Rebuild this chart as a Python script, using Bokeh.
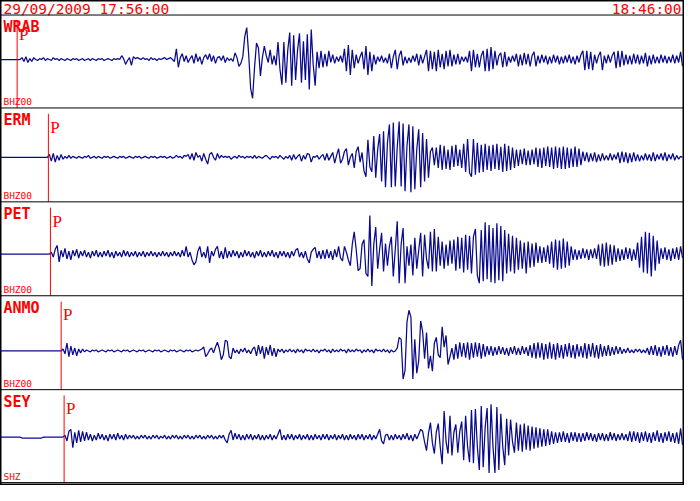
from bokeh.plotting import figure
from bokeh.models import Range1d, Span
from bokeh.core.properties import value
from bokeh.embed import file_html
from bokeh.resources import INLINE

# ---------------- data ----------------
START_LABEL = "29/09/2009 17:56:00"
END_LABEL = "18:46:00"
WINDOW_SEC = 3000            # 17:56:00 -> 18:46:00
N_SAMPLES = 350
SAMPLE_SEC = WINDOW_SEC / N_SAMPLES

stations = ["WRAB", "ERM", "PET", "ANMO", "SEY"]
channels = ["BHZ00", "BHZ00", "BHZ00", "BHZ00", "SHZ"]
p_arrival_sec = [73, 210, 219, 266, 279]

wrab = [0, 0, 0, 0, 0, 0, 0, 0, 0, 0, 0,
    2, -2, 3, -3, 1, -2, 2, 0, -1, 1, 0, 2, -1, 1, 0, -1, 2, 0, 1, -1,
    1, 0, -1, 1, 0, -1, 1, 0, 1, -1, 0, 1, -1, 0, 1, -1, 1, 0, -1, 1,
    0, 1, -1, 0, 1, 0, -1, 1, 0, 1, 0, 4, 1, -5, -1, 2, -6, 3, 1, 2,
    1, 0, 2, 0, 1, -1, 2, 0, 1, -1, 1, 0, 1, 2, 0, 1, 2, 0, -2, 11,
    -8, 2, 6, -2, 4, -3, 1, 4, -4, 6, -2, 3, -5, 2, 5, 0, 6, -2, 4, -4,
    2, 3, -1, 4, -3, 2, -1, 1, -2, 7, 2, -7, -4, 3, 24, 33, 5, -30, -40, -8,
    17, 12, -17, 2, 14, 4, -3, 10, -5, 4, -6, 18, -10, -26, 18, -24, 10, 28, -27, 25,
    -21, 10, 27, -24, 19, -21, 26, -31, 31, -5, -27, 8, -9, 9, -8, 6, -7, 9, -3, 5,
    -4, 3, -2, 4, -3, 11, -12, 15, -16, 10, -9, 5, -4, 3, 8, -10, 14, -16, 8, -12,
    5, -5, 3, -2, 4, -3, 2, -4, 6, -9, 3, 10, -10, 4, 9, -6, 3, -4, 2, -3,
    4, -2, 6, -6, 5, -4, 3, 10, -12, 9, -10, 8, -12, 10, -8, 6, -10, 9, -7, 10,
    -7, 5, -5, 6, -5, 3, -2, 3, -3, 9, -12, 10, -8, 6, -8, 4, 9, -12, 11, -12,
    13, -10, 9, -6, 4, 7, -8, 8, -7, 3, -3, 4, -2, 6, -7, 5, -6, 7, -5, 6,
    -7, 4, 8, -7, 4, -4, 5, -3, 4, -5, 3, -4, 5, -3, 4, -5, 3, -4, 4, -3,
    5, -4, 3, -5, 4, -3, 5, 9, -11, 9, -10, 8, -11, 5, -4, 4, 8, -11, 4, -4,
    5, -3, 4, 8, -9, 9, -8, 9, -6, 5, -5, 4, -5, 6, -4, 5, -5, 4, -4, 7,
    -7, 4, -5, 5, -4, 3, -4, 5, -3, 4, -4, 3, -3, 5, -4, 4, -3, 8, -7]

erm = [0, 0, 0, 0, 0, 0, 0, 0, 0, 0, 0, 0, 0, 0, 0, 0, 0, 0, 0, 0, 0, 0, 0, 0, 0,
    3, -4, 4, -5, 2, -3, 3, -2, 1, -1, 2, -1, 1, 0, -1, 1, 0, -1, 1, 0,
    2, -1, 0, 1, -1, 1, 0, -1, 1, 0, 1, -1, 0, 1, 0, -1, 1, 0, 1, -1,
    0, 1, 0, -1, 1, 0, 1, -1, 0, 1, 0, -1, 1, 0, 1, -1, 0, 1, 0, 1,
    -1, 0, 1, -1, 0, 2, 0, 1, -1, 2, 1, 3, -2, 4, -3, 5, 0, 2, -4, 4,
    -2, -7, 3, 5, 0, -3, 4, -1, 2, 0, 1, 0, 1, -2, 0, 1, -1, 2, 0, 1,
    -1, 1, 0, 1, -1, 2, -1, 1, 0, -1, 1, 2, 0, -2, 1, 0, 1, -1, 2, 0,
    -2, 1, -1, 2, -3, 3, -2, 1, 3, -4, 2, -2, 4, 3, -5, 1, 0, 2, -2, 1,
    3, -3, 4, -3, 1, 5, -6, 2, 9, -6, -2, 6, 9, -8, 0, 4, -11, 6, 11, -5,
    5, -14, -20, 18, -10, -15, 22, -21, 8, 24, -25, 27, -31, 15, 34, -31, 36, -30, 10, 37,
    -30, 35, -35, 12, 34, -36, 32, -33, 8, 29, -31, 25, -25, 19, -21, 6, 10, -8, 10, -11,
    13, -13, 12, -12, 8, -13, 12, -10, 13, -9, 8, -11, 14, -15, 19, -16, -20, 19, -18, 15,
    -16, 13, -15, 14, -13, 12, -14, 13, -12, 14, -13, 11, -15, 14, -14, 12, -13, 10, -11, 8,
    -9, 8, -7, 9, -8, 7, -8, 8, -7, 10, -10, 9, -11, 10, -9, 11, -10, 10, -12, 11,
    -11, 10, -12, 11, -12, 10, -11, 9, -10, 11, -10, 9, -8, 6, -4, 5, -5, 4, -4, 5,
    -5, 3, -4, 4, -3, 2, -3, 4, -3, 3, -2, 5, -6, 6, -5, 5, -6, 4, -5, 5,
    -4, 3, -4, 2, -3, 4, -3, 3, -4, 5, -4, 3, -2, 4, -3, 5, -4, 3, -2, 4,
    -3, 2, -2, 1, 0]

pet = [0, 0, 0, 0, 0, 0, 0, 0, 0, 0, 0, 0, 0, 0, 0, 0, 0, 0, 0, 0, 0, 0, 0, 0, 0, 0,
    2, -3, 5, 9, -8, 4, -3, 6, -5, 3, -6, 4, -2, 5, -4, 3, -2, 4, -3, 2,
    -4, 3, -2, 4, -3, 2, -3, 3, -2, 4, -3, 2, -4, 3, -2, 2, -3, 4, -2, 3,
    -3, 2, -2, 3, -3, 2, -2, 3, -3, 2, -2, 3, -2, 2, -3, 2, -2, 3, -2, 2,
    -3, 2, -2, 3, -2, 2, -3, 4, -2, 8, -3, 2, -6, -11, -8, 3, 8, -3, 2, -4,
    8, -9, 3, -2, 5, 8, -4, 3, -5, 7, -4, 3, -3, 4, -2, 3, -4, 2, -3, 4,
    -2, 3, -3, 2, -4, 3, -2, 4, -3, 2, -3, 3, -2, 4, -3, 2, -4, 3, -2, 3,
    -3, 2, -4, 3, -2, 4, 6, -3, 2, -4, 3, -5, -9, 2, 5, 7, -4, 3, -5, 4,
    -5, 5, -4, 3, -6, 5, -3, 8, -4, -7, 8, 2, -6, -12, 10, 23, 5, -17, -15, 10,
    15, -20, -23, 40, -33, 10, 28, -15, 5, 22, -18, 11, -12, 8, 18, -23, 5, 34, -30, 10,
    27, -30, 8, -12, 10, -22, 17, -15, 4, 22, -23, 20, -5, -15, 23, -18, 26, -18, 18, -12,
    13, -15, 10, -12, 14, -10, 15, -17, 18, -15, 17, -19, 20, -16, 19, -20, 18, 26, -22, -30,
    25, -28, 33, -26, 30, -29, 27, -30, 32, -27, 29, -28, 25, -20, 21, -18, 19, -20, 17, -16,
    14, -15, 12, -20, 13, -14, 11, -13, 12, -9, 8, -9, 7, -8, 9, -10, 13, -14, 15, -16,
    14, -15, 16, -14, 13, -12, 8, -6, 5, -6, 4, -5, 6, -4, 5, -6, 5, -4, 6, -5,
    10, -12, 11, -13, 12, -12, 10, -11, 9, -8, 6, -7, 5, -6, 7, -5, 6, -7, 5, -6,
    12, -14, 18, -19, 23, -20, 22, -23, 19, -17, 14, -10, 6, -5, 7, -6, 5, -7, 6, -5,
    7, -6, 8, -4]

anmo = [0, 0, 0, 0, 0, 0, 0, 0, 0, 0, 0, 0, 0, 0, 0, 0,
    0, 0, 0, 0, 0, 0, 0, 0, 0, 0, 0, 0, 0, 0, 0, 0,
    2, -3, 8, -6, 5, -4, 3, -5, 2, -2, 2, -1, 1, 0, -1, 1, 0, 1, -1, 0,
    1, 0, -1, 1, 0, 1, -1, 0, 1, 0, -1, 1, 0, 1, -1, 0, 1, 0, -1, 1,
    0, 1, -1, 0, 1, 0, -1, 1, 0, 1, -1, 0, 1, 0, -1, 1, 0, 1, -1, 0,
    1, 0, -1, 1, 0, 1, -1, 0, 1, 0, 1, 2, 4, -6, -3, 1, 3, -2, 4, 9,
    2, -9, -4, 11, 10, -6, -8, 3, -2, 1, -3, 2, -1, 3, -2, 1, -3, 2, 4, -5,
    6, -3, 5, -8, 4, -4, 6, -5, 3, -6, 2, -1, 2, -2, 1, -1, 2, -1, 1, -2,
    2, -1, 1, -2, 2, 0, 1, -1, 2, -1, 1, -2, 1, 0, 2, -1, 1, -2, 2, -1,
    1, -1, 2, 0, 1, -2, 2, -1, 1, -1, 2, 0, 1, -2, 1, -1, 2, -1, 1, -2,
    2, 0, 1, -1, 2, -1, 1, -2, 1, -1, 0, 3, 14, 12, -29, -20, 30, 42, 35, -29,
    12, -23, -10, 31, 20, -8, 19, -18, -5, -21, 8, 14, -4, -7, 25, 4, 16, -14, -6, 3,
    -9, 7, -8, 9, -6, 8, -7, 9, -9, 8, -7, 9, -6, 8, -8, 7, -6, 5, -4, 5,
    -5, 4, -4, 5, -3, 4, -4, 3, -5, 4, -3, 5, -4, 3, -4, 5, -3, 4, -5, 6,
    -7, 8, -8, 9, -7, 8, -9, 7, -8, 9, -8, 7, -9, 8, -7, 6, -8, 7, -6, 8,
    -7, 6, -8, 7, -6, 5, -7, 8, -8, 7, -6, 8, -7, 6, -8, 7, -6, 5, -5, 6,
    -5, 4, -4, 5, -3, 4, -3, 2, -2, 3, -2, 1, -2, 2, -1, 2, -2, 1, -2, 3,
    -4, 5, -4, 6, -5, 4, -6, 5, -4, 6, -5, 4, -6, 5, -4, 6, 11, -9]

sey = [0, 0, 0, 0, 0, 0, 0, 0, 0, 0, 0,
    -1, -1, -1, -1, -1, -1, -1, -1, -1, -1, -1,
    0, 0, 0, 0, 0, 0, 0, 0, 0, 0, 0,
    2, -4, 6, 8, -11, 5, -6, 7, -5, 6, -4, 5, -3, 3, -4, 2, -3, 4, -2, 3,
    -3, 2, -4, 3, -2, 3, -3, 4, -2, 2, -3, 3, -2, 2, -1, 2, -2, 1, -2, 2,
    -1, 2, -2, 1, -2, 2, -1, 2, -2, 1, -1, 2, -2, 1, -2, 2, -1, 2, -2, 1,
    -2, 2, -1, 2, -2, 1, -2, 2, -1, 2, -2, 1, -2, 2, -1, 2, -2, 1, -2, 2,
    -1, 2, -3, -6, 3, 7, -3, 4, -2, 3, -3, 2, -3, 3, -2, 3, -3, 2, -2, 3,
    -3, 2, -3, 2, -2, 3, -3, 2, -2, 3, 8, -3, 2, -3, 3, -2, 3, -3, 2, -2,
    3, -3, 2, -2, 3, -3, 2, -3, 3, -2, 2, -3, 3, -2, 3, -3, 2, -2, 3, -3,
    2, -2, 3, -3, 2, -3, 3, -2, 2, -3, 3, -2, 3, -3, 2, -2, 3, -3, 2, -2,
    3, 8, -4, -7, 2, 3, -3, 2, -3, 3, -2, 2, -3, 3, -2, 4, -3, 2, -4, 3,
    -2, 3, 8, 6, -5, -14, 4, 15, -6, -17, 5, 14, -10, -28, 27, -5, -17, 22, -19, 5,
    13, -16, 6, 16, -24, 22, -10, -26, 28, -27, 29, -10, -34, 32, -31, 10, 30, -37, 34, -10,
    -37, 31, -34, 24, -10, -29, 19, -19, 18, -5, -16, 15, -14, 13, -15, 14, -13, 12, -14, 11,
    -12, 10, -11, 9, -10, 8, -9, 8, -8, 6, -7, 5, -6, 5, -5, 6, -5, 4, -6, 5,
    -4, 5, -5, 4, -5, 4, -4, 5, -3, 4, -4, 3, -5, 4, -3, 4, -4, 3, -4, 5,
    -3, 4, -4, 3, -3, 4, -3, 3, -4, 6, -5, 6, -4, 5, -6, 5, -4, 6, -5, 4,
    -6, 5, -4, 7, -5, 4, -6, 5, -4, 6, -5, 4, -6, 5, -7, 9, -8]

traces = [wrab, erm, pet, anmo, sey]

# ---------------- layout (reference pixel frame 700 x 501) ----------------
REF_W, REF_H = 700, 501
W, H = 684, 485
panel_tops = [15, 111, 208, 305, 402]
panel_bottom = 498
baselines = [61, 162, 262, 362, 451]
TRACE_COLOR = "#0a0a8c"
RED = "#ff0000"


def px(x):
    """reference pixel column -> seconds"""
    return x * WINDOW_SEC / REF_W


p = figure(width=W, height=H, output_backend="svg", toolbar_location=None,
           x_range=Range1d(0, WINDOW_SEC), y_range=Range1d(REF_H, 0),
           min_border=0, background_fill_color="white",
           border_fill_color="white")
p.xaxis.visible = False
p.yaxis.visible = False
p.xgrid.visible = False
p.ygrid.visible = False
p.outline_line_color = "black"
p.outline_line_width = 2

# traces
for vals, base in zip(traces, baselines):
    t = [i * SAMPLE_SEC for i in range(len(vals))]
    y = [base - v for v in vals]
    p.line(t, y, line_color=TRACE_COLOR, line_width=1.25)

# panel separators
for yy in panel_tops + [panel_bottom]:
    p.add_layout(Span(location=yy, dimension="width", line_color="black",
                      line_width=1))

# P arrival markers
bottoms = panel_tops[1:] + [panel_bottom]
p.segment(x0=p_arrival_sec, y0=[t + 6 for t in panel_tops],
          x1=p_arrival_sec, y1=bottoms, line_color=RED, line_width=1)
p.text(x=[s + px(2) for s in p_arrival_sec], y=[t + 10 for t in panel_tops],
       text=["P"] * len(stations), text_color=RED, text_baseline="top",
       text_font=value("Liberation Serif"), text_font_size="17px")

# station labels
p.text(x=[px(3)] * len(stations), y=[t + 3 for t in panel_tops], text=stations,
       text_color=RED, text_baseline="top", text_font=value("DejaVu Sans Mono"),
       text_font_style="bold", text_font_size="15px")

# channel labels
p.text(x=[px(3)] * len(stations), y=[b - 1 for b in bottoms], text=channels,
       text_color=RED, text_baseline="bottom",
       text_font=value("DejaVu Sans Mono"), text_font_size="9.5px")

# header
p.text(x=[px(3)], y=[0], text=[START_LABEL], text_color=RED,
       text_baseline="top", text_font=value("DejaVu Sans Mono"),
       text_font_size="14.5px")
p.text(x=[px(697)], y=[0], text=[END_LABEL], text_color=RED,
       text_baseline="top", text_align="right",
       text_font=value("DejaVu Sans Mono"), text_font_size="14.5px")

open("out.html", "w").write(file_html(p, INLINE))
